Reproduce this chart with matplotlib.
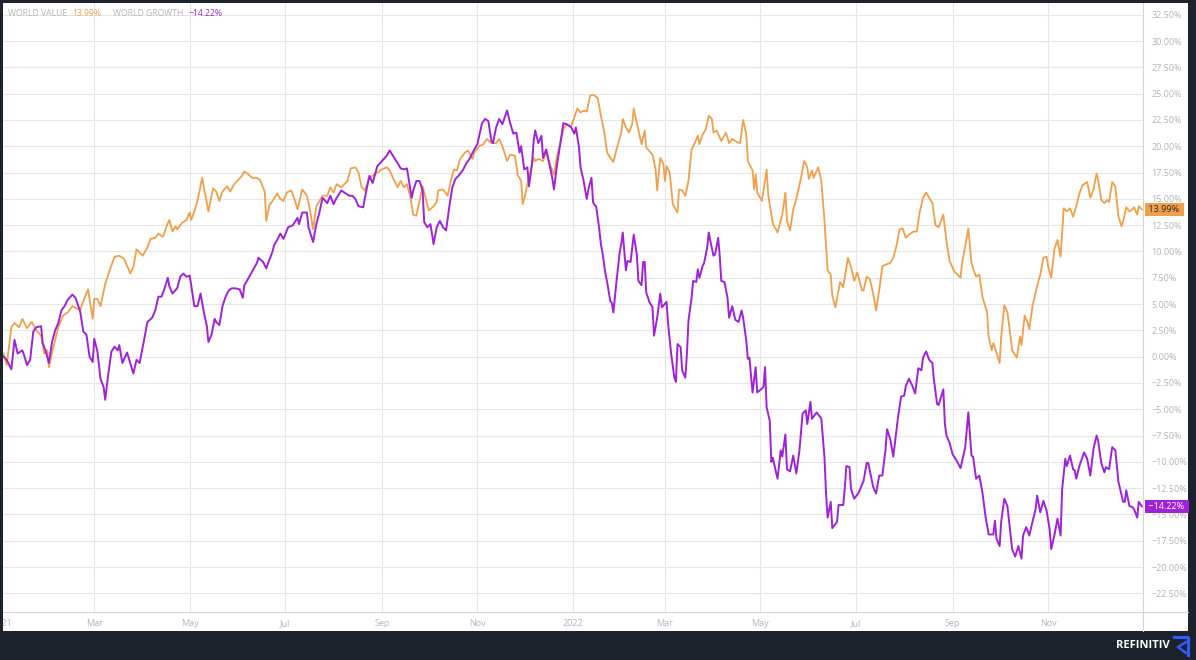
import matplotlib
matplotlib.use("Agg")
import matplotlib.pyplot as plt
import matplotlib.dates as mdates
from matplotlib.patches import Rectangle
from matplotlib.lines import Line2D
from matplotlib.ticker import FuncFormatter, FixedLocator
from matplotlib.transforms import blended_transform_factory
import numpy as np
import pandas as pd

# series: days since 2021-01-01, % change
start = pd.Timestamp("2021-01-01")

value_days = [
    1, 3, 6, 8, 11, 13, 16, 19, 22, 25,
    27, 29, 30, 33, 36, 39, 42, 45, 50, 52,
    55, 58, 59, 61, 63, 66, 69, 72, 75, 78,
    81, 82, 84, 86, 88, 90, 93, 95, 98, 100,
    103, 105, 107, 109, 111, 112, 115, 118, 120, 121,
    123, 125, 128, 130, 132, 135, 137, 139, 141, 144,
    146, 148, 151, 153, 155, 157, 160, 163, 165, 168,
    169, 171, 173, 176, 178, 180, 182, 185, 187, 189,
    192, 195, 197, 199, 201, 205, 208, 210, 212, 214,
    217, 221, 223, 226, 228, 230, 232, 235, 237, 240,
    243, 246, 248, 250, 253, 255, 257, 259, 261, 263,
    265, 267, 269, 271, 273, 276, 278, 279, 282, 285,
    287, 289, 291, 293, 296, 298, 301, 302, 305, 308,
    310, 313, 316, 318, 320, 323, 325, 328, 330, 332,
    333, 334, 336, 340, 341, 343, 346, 348, 350, 353,
    355, 357, 359, 361, 364, 368, 370, 372, 374, 376,
    378, 381, 383, 385, 387, 389, 391, 393, 396, 397,
    399, 401, 403, 404, 406, 409, 411, 412, 416, 418,
    419, 421, 423, 424, 425, 427, 429, 432, 433, 435,
    437, 439, 441, 443, 445, 446, 448, 450, 452, 454,
    455, 457, 460, 463, 465, 467, 470, 472, 474, 476,
    477, 480, 481, 482, 483, 486, 489, 490, 493, 495,
    496, 499, 501, 502, 504, 506, 508, 511, 513, 515,
    516, 518, 519, 522, 524, 526, 528, 530, 531, 533,
    534, 536, 538, 540, 541, 543, 545, 547, 550, 551,
    553, 555, 557, 559, 561, 563, 566, 568, 570, 572,
    574, 576, 578, 580, 583, 585, 587, 589, 591, 593,
    595, 597, 599, 602, 604, 606, 609, 613, 614, 616,
    618, 620, 621, 623, 625, 627, 630, 631, 633, 634,
    636, 638, 639, 641, 643, 645, 646, 649, 651, 652,
    654, 656, 657, 659, 662, 664, 666, 668, 669, 671,
    673, 675, 677, 679, 681, 683, 685, 687, 689, 691,
    694, 696, 698, 700, 701, 703, 705, 707, 708, 710,
    712, 714, 716, 717, 719, 721, 723, 724, 726, 727,
    729]
value_pct = [
    0.3, -0.8, 2.8, 3.2, 2.8, 3.6, 2.7, 3.3, 2.5, 2.0,
    0.3, 0.6, -1.0, 1.0, 2.8, 3.9, 4.2, 4.8, 4.4, 5.3,
    6.4, 3.6, 5.5, 5.5, 4.8, 6.9, 8.3, 9.5, 9.6, 9.3,
    8.3, 7.9, 8.5, 10.2, 9.9, 9.6, 10.4, 11.2, 11.3, 11.7,
    11.4, 12.3, 13.0, 11.9, 12.4, 12.1, 12.7, 13.0, 13.7, 13.0,
    13.8, 14.8, 17.0, 15.4, 13.8, 16.0, 15.7, 14.8, 15.7, 16.2,
    15.7, 16.3, 16.8, 17.1, 17.6, 17.4, 17.0, 17.0, 16.8, 15.7,
    12.9, 14.4, 14.8, 15.5, 15.0, 14.8, 15.6, 15.8, 15.0, 14.0,
    15.9, 15.3, 13.9, 12.1, 14.3, 15.3, 15.3, 16.1, 15.6, 16.4,
    16.1, 16.7, 17.9, 18.0, 17.5, 16.1, 15.8, 17.0, 17.2, 17.5,
    17.8, 18.0, 17.7, 17.0, 16.1, 16.7, 16.1, 16.4, 15.3, 13.5,
    13.4, 14.8, 16.2, 15.0, 13.9, 14.3, 14.7, 15.8, 15.9, 15.3,
    16.7, 17.8, 17.7, 18.8, 19.4, 19.6, 18.8, 19.4, 20.0, 20.2,
    20.7, 20.3, 20.3, 20.7, 20.0, 18.6, 19.2, 19.1, 17.2, 16.7,
    14.5, 15.0, 16.4, 18.9, 18.6, 18.8, 18.6, 19.4, 18.4, 17.3,
    19.1, 20.3, 21.6, 22.1, 21.9, 23.6, 23.2, 23.4, 23.3, 24.8,
    24.9, 24.6, 22.9, 21.5, 19.4, 18.9, 18.5, 19.7, 21.3, 22.6,
    21.8, 21.3, 22.1, 23.6, 22.2, 20.2, 21.5, 19.9, 19.2, 17.8,
    15.8, 18.9, 18.3, 16.7, 18.1, 17.5, 14.5, 13.7, 15.9, 15.8,
    15.3, 16.7, 19.7, 20.3, 21.0, 20.2, 21.1, 21.6, 22.9, 22.6,
    21.3, 21.5, 20.5, 21.3, 20.3, 20.7, 20.4, 20.3, 22.5, 21.1,
    18.6, 17.7, 15.9, 17.3, 15.6, 14.8, 17.8, 15.4, 12.6, 12.1,
    11.8, 13.5, 15.6, 12.9, 12.0, 14.0, 15.0, 17.0, 18.6, 18.0,
    16.9, 17.7, 17.0, 18.0, 16.7, 12.9, 8.2, 7.8, 5.8, 4.7,
    5.5, 7.1, 6.6, 8.5, 9.4, 8.5, 7.2, 8.0, 6.3, 6.3,
    7.6, 7.4, 6.1, 4.4, 6.3, 8.6, 8.8, 8.9, 9.4, 10.5,
    12.1, 12.2, 11.3, 11.6, 11.9, 11.9, 13.8, 15.1, 15.6, 15.1,
    14.6, 12.5, 12.3, 13.5, 11.0, 9.1, 8.1, 7.5, 8.9, 10.5,
    12.2, 8.9, 8.4, 7.6, 7.8, 5.7, 4.2, 1.9, 0.6, 1.3,
    0.4, -0.6, 1.9, 4.9, 4.2, 1.9, 0.6, -0.1, 1.9, 1.1,
    3.9, 3.2, 2.6, 4.8, 6.7, 7.8, 9.4, 9.5, 8.6, 7.5,
    10.2, 11.1, 9.5, 14.1, 13.8, 14.1, 13.3, 14.3, 15.5, 16.3,
    16.6, 15.1, 15.9, 17.4, 16.8, 14.9, 14.6, 14.9, 14.7, 16.6,
    16.2, 13.3, 12.4, 12.9, 14.2, 13.8, 14.0, 14.2, 13.5, 14.3,
    13.99]

growth_days = [
    1, 3, 6, 8, 10, 13, 14, 16, 18, 20,
    22, 25, 26, 28, 30, 32, 34, 36, 38, 40,
    42, 45, 47, 50, 52, 54, 56, 58, 59, 61,
    63, 65, 66, 68, 70, 72, 74, 75, 77, 80,
    82, 84, 86, 88, 91, 93, 96, 98, 100, 102,
    104, 106, 107, 109, 112, 114, 116, 118, 120, 121,
    123, 125, 127, 129, 131, 132, 134, 136, 137, 139,
    141, 143, 145, 147, 149, 152, 154, 155, 157, 160,
    163, 164, 167, 169, 171, 173, 174, 176, 178, 180,
    183, 186, 189, 190, 192, 195, 196, 199, 201, 203,
    205, 208, 210, 212, 214, 217, 219, 222, 224, 226,
    228, 231, 233, 235, 237, 240, 243, 246, 248, 250,
    253, 255, 257, 259, 262, 263, 265, 267, 269, 270,
    272, 274, 276, 278, 280, 282, 284, 286, 288, 290,
    292, 295, 297, 299, 302, 304, 307, 309, 311, 313,
    314, 316, 318, 320, 323, 325, 327, 329, 331, 332,
    334, 336, 337, 339, 340, 341, 343, 345, 346, 348,
    350, 352, 353, 355, 357, 359, 361, 364, 366, 367,
    369, 370, 372, 373, 374, 375, 377, 378, 379, 380,
    382, 383, 384, 386, 387, 389, 390, 391, 393, 395,
    396, 397, 399, 400, 402, 404, 406, 407, 409, 410,
    411, 412, 414, 416, 417, 419, 421, 422, 425, 426,
    428, 430, 431, 432, 434, 435, 437, 438, 439, 441,
    442, 444, 445, 446, 448, 449, 451, 452, 453, 455,
    456, 458, 459, 460, 462, 464, 465, 467, 469, 471,
    473, 474, 476, 477, 478, 480, 482, 483, 487, 488,
    489, 491, 492, 493, 495, 496, 498, 499, 501, 502,
    504, 506, 508, 510, 512, 514, 515, 517, 518, 521,
    524, 526, 527, 528, 530, 531, 534, 535, 538, 539,
    540, 542, 543, 545, 548, 551, 553, 554, 557, 558,
    559, 561, 563, 565, 566, 568, 570, 572, 573, 575,
    577, 578, 580, 582, 584, 586, 588, 589, 591, 593,
    595, 596, 598, 599, 602, 603, 604, 606, 608, 611,
    613, 616, 618, 620, 621, 623, 625, 627, 629, 631,
    634, 635, 636, 638, 639, 641, 643, 645, 646, 648,
    650, 652, 653, 655, 657, 659, 661, 662, 664, 666,
    668, 670, 671, 673, 675, 677, 678, 680, 681, 683,
    685, 686, 687, 689, 692, 694, 696, 698, 700, 701,
    703, 705, 706, 708, 710, 712, 714, 717, 718, 719,
    721, 723, 724, 726, 727, 729]
growth_pct = [
    0.0, -0.3, -1.2, 1.6, 0.3, 0.6, 0.2, -0.8, -0.3, 2.4,
    2.8, 2.9, 1.3, 0.5, -0.6, 1.4, 2.5, 3.2, 4.4, 4.8,
    5.4, 5.9, 5.6, 4.3, 2.4, 2.1, 0.0, -0.5, 1.7, 0.5,
    -2.1, -2.9, -4.1, -1.6, 0.5, 0.95, 0.6, 1.1, -0.6, 0.4,
    -0.6, -1.6, -0.3, -0.6, 1.7, 3.3, 3.7, 4.4, 5.7, 5.7,
    6.5, 7.5, 6.7, 6.0, 6.5, 7.6, 7.9, 7.6, 7.7, 6.8,
    4.8, 4.8, 6.0, 4.3, 2.9, 1.4, 2.1, 3.6, 3.3, 3.0,
    4.8, 5.7, 6.3, 6.5, 6.5, 6.4, 5.6, 6.8, 7.3, 8.1,
    8.9, 9.4, 9.0, 8.4, 9.2, 10.0, 10.6, 11.1, 11.7, 11.2,
    12.3, 12.5, 13.2, 12.6, 13.7, 13.7, 12.3, 10.9, 12.6, 13.7,
    15.1, 14.6, 15.3, 14.5, 15.1, 15.8, 15.6, 15.3, 15.3, 15.0,
    14.3, 14.2, 15.8, 17.2, 16.5, 18.1, 18.6, 19.1, 19.6, 19.1,
    18.4, 17.9, 17.8, 17.9, 15.1, 15.8, 16.7, 16.7, 15.8, 12.8,
    12.3, 12.6, 10.7, 12.3, 12.9, 12.3, 12.0, 14.2, 16.1, 16.9,
    17.2, 17.8, 18.4, 18.8, 19.7, 20.2, 22.2, 22.6, 22.4, 20.5,
    20.3, 21.8, 22.6, 22.1, 23.4, 22.2, 21.2, 21.3, 19.4, 20.0,
    17.8, 18.0, 16.2, 18.4, 20.5, 21.5, 20.3, 21.0, 18.9, 19.7,
    18.4, 16.9, 15.9, 18.3, 20.2, 22.2, 22.1, 21.8, 21.2, 21.8,
    19.9, 18.0, 16.7, 15.8, 15.0, 15.9, 17.0, 14.7, 14.4, 14.3,
    12.1, 10.7, 9.9, 7.8, 7.1, 5.3, 5.1, 4.2, 7.2, 9.9,
    10.7, 11.8, 8.2, 9.1, 9.0, 11.6, 9.7, 7.2, 6.8, 9.0,
    9.0, 6.1, 5.2, 4.7, 2.0, 3.7, 6.0, 4.7, 5.2, 3.1,
    0.2, -2.0, -2.4, 1.2, 0.9, -1.3, -2.0, 0.2, 3.4, 5.6,
    7.2, 7.1, 8.3, 7.5, 8.6, 8.9, 10.4, 11.8, 11.0, 9.6,
    9.7, 11.3, 9.6, 7.2, 7.1, 5.6, 3.7, 4.8, 3.5, 3.3,
    4.4, 3.7, 1.5, -0.2, -0.1, -3.4, -1.0, -3.4, -2.9, -1.0,
    -4.8, -6.1, -10.0, -9.6, -11.0, -11.6, -8.9, -9.5, -7.4, -10.7,
    -10.9, -9.4, -11.1, -8.9, -5.4, -5.1, -6.4, -4.3, -5.9, -5.3,
    -5.9, -9.6, -13.0, -15.3, -13.8, -16.3, -15.7, -14.1, -14.1, -12.4,
    -10.4, -10.5, -12.6, -13.5, -12.9, -11.8, -10.1, -10.1, -12.3, -12.7,
    -13.0, -11.3, -11.3, -8.9, -6.9, -7.8, -9.5, -7.0, -5.8, -3.8,
    -3.7, -2.8, -2.1, -2.7, -3.5, -1.1, -1.3, -0.1, 0.5, -0.3,
    -0.6, -2.2, -4.5, -4.6, -3.1, -6.4, -7.5, -8.2, -9.3, -10.0,
    -10.6, -8.6, -5.3, -9.4, -9.5, -11.6, -11.3, -12.9, -15.2, -16.9,
    -16.9, -15.6, -17.3, -18.0, -15.7, -13.5, -14.2, -17.0, -18.3, -19.0,
    -18.0, -19.2, -17.0, -16.2, -17.0, -15.7, -14.5, -13.2, -14.8, -13.7,
    -14.6, -16.4, -18.3, -17.0, -15.4, -17.0, -12.6, -9.7, -10.4, -9.4,
    -10.7, -10.8, -11.6, -10.4, -9.1, -9.7, -11.3, -8.8, -7.5, -8.0,
    -10.1, -11.0, -10.5, -10.7, -8.6, -8.9, -11.9, -13.8, -13.8, -12.7,
    -14.2, -14.3, -14.5, -15.3, -13.8, -14.22]

names = ["WORLD VALUE", "WORLD GROWTH"]
last_values = [13.99, -14.22]
y_ticks = np.arange(-22.5, 33.0, 2.5)

dark = "#1d232d"
orange = "#f0a04b"
purple = "#a022d8"
grey_txt = "#b4b4b4"
grid_c = "#e6e6e6"

plt.rcParams["font.family"] = ["Open Sans", "DejaVu Sans"]

W, H = 1196, 660
fig = plt.figure(figsize=(W / 100, H / 100), dpi=100, facecolor=dark)

def fx(px):
    return px / W

def fy(py):
    return 1 - py / H

def pct(v):
    return ("%.2f%%" % v).replace("-", "\u2212")

# white panel
fig.patches.append(Rectangle((fx(3), fy(631)), fx(1188 - 3), (631 - 3) / H,
                             transform=fig.transFigure, facecolor="white",
                             edgecolor="none", zorder=-1))

ax = fig.add_axes([fx(2), fy(612), fx(1143 - 2), (612 - 3) / H])
ax.set_facecolor("white")

vd = start + pd.to_timedelta(value_days, unit="D")
gd = start + pd.to_timedelta(growth_days, unit="D")
ax.plot(vd, value_pct, color=orange, lw=1.3, zorder=3)
ax.plot(gd, growth_pct, color=purple, lw=1.4, zorder=4)

ax.set_xlim(start, start + pd.Timedelta(days=729.7))
ax.set_ylim(-24.27, 33.62)

ax.xaxis.set_major_locator(mdates.MonthLocator(bymonth=[1, 3, 5, 7, 9, 11]))
ax.xaxis.set_major_formatter(FuncFormatter(
    lambda v, p: mdates.num2date(v).strftime("%Y") if mdates.num2date(v).month == 1
    else mdates.num2date(v).strftime("%b")))
ax.yaxis.set_major_locator(FixedLocator(y_ticks))
ax.yaxis.set_major_formatter(FuncFormatter(lambda v, p: pct(v)))
ax.yaxis.tick_right()
ax.tick_params(axis="both", length=0, labelsize=6.5, labelcolor=grey_txt)
ax.tick_params(axis="x", pad=5)
ax.tick_params(axis="y", pad=6)
for lab in ax.get_yticklabels():
    lab.set_horizontalalignment("left")

ax.grid(True, color=grid_c, lw=0.8)
ax.set_axisbelow(True)
for s in ["top", "left"]:
    ax.spines[s].set_visible(False)
for s in ["bottom", "right"]:
    ax.spines[s].set_color("#d4d4d4")
    ax.spines[s].set_linewidth(0.8)

# frame lines carried out to the panel edges
fig.lines.append(Line2D([fx(1143), fx(1188)], [fy(612), fy(612)],
                        transform=fig.transFigure, color="#d4d4d4", lw=0.8))
fig.lines.append(Line2D([fx(1143), fx(1143)], [fy(612), fy(631)],
                        transform=fig.transFigure, color="#d4d4d4", lw=0.8))

# legend line at the top left
fig.text(fx(8), fy(14), names[0], fontsize=6.2, color=grey_txt, va="center")
fig.text(fx(72), fy(14), pct(last_values[0]), fontsize=6.2, color=orange, va="center")
fig.text(fx(113), fy(14), names[1], fontsize=6.2, color=grey_txt, va="center")
fig.text(fx(189), fy(14), pct(last_values[1]), fontsize=6.2, color=purple, va="center")

# last value tags on the right axis
tr = blended_transform_factory(ax.transAxes, ax.transData)
ax.text(1.003, last_values[0], " " + pct(last_values[0]) + " ", transform=tr,
        fontsize=6.5, color="#2a2a2a", va="center", ha="left", clip_on=False,
        bbox=dict(boxstyle="square,pad=0.2", fc=orange, ec="none"), zorder=6)
ax.text(1.003, last_values[1], " " + pct(last_values[1]) + " ", transform=tr,
        fontsize=6.5, color="white", va="center", ha="left", clip_on=False,
        bbox=dict(boxstyle="square,pad=0.2", fc=purple, ec="none"), zorder=6)

# dark border strips drawn over the panel
fig.patches.append(Rectangle((0, 0), fx(3), 1, transform=fig.transFigure,
                             facecolor=dark, edgecolor="none", zorder=10))
fig.patches.append(Rectangle((0, fy(3)), 1, 3 / H, transform=fig.transFigure,
                             facecolor=dark, edgecolor="none", zorder=10))

# footer logo
fig.text(fx(1143), fy(645), "REFINITIV", fontsize=8, color="white",
         fontweight="bold", ha="center", va="center")
logo_c = "#2f5cff"
fig.lines.append(Line2D([fx(1174), fx(1188), fx(1188)], [fy(637), fy(637), fy(655)],
                        transform=fig.transFigure, color=logo_c, lw=2.2))
fig.lines.append(Line2D([fx(1186), fx(1178), fx(1186)], [fy(642), fy(647), fy(653)],
                        transform=fig.transFigure, color=logo_c, lw=1.8))

fig.savefig("out.png", dpi=100, facecolor=dark)
